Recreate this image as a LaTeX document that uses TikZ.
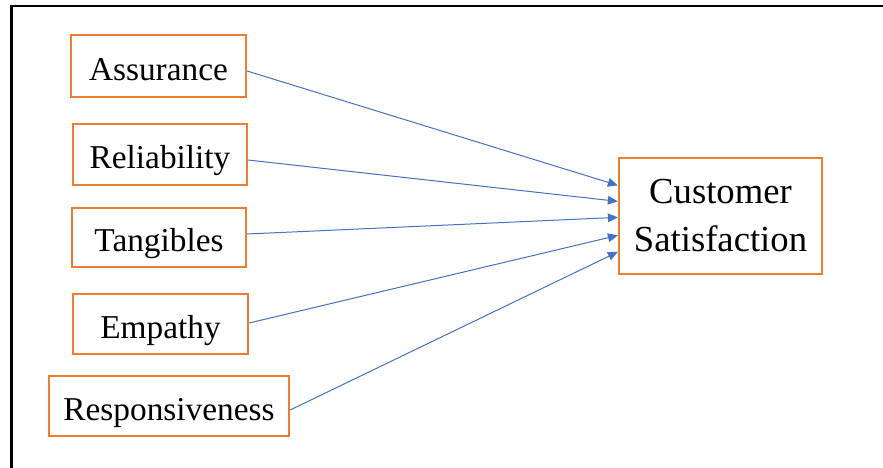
\documentclass[tikz,border=0pt]{standalone}
\usepackage{fontspec}
\IfFontExistsTF{LiberationSerif-Regular.ttf}
  {\setmainfont{LiberationSerif}[Extension=.ttf,UprightFont=*-Regular]}
  {\setmainfont{Liberation Serif}}
\usetikzlibrary{arrows.meta,calc}
\definecolor{boxorange}{RGB}{237,125,49}
\definecolor{linkblue}{RGB}{68,114,196}
\begin{document}
\begin{tikzpicture}[x=0.75pt,y=-0.75pt,
  factor/.style={draw=boxorange,line width=1.4pt,inner sep=0pt,
    font=\fontsize{25}{30}\selectfont,text height=21pt,text depth=0pt},
  outcome/.style={draw=boxorange,line width=1.4pt,inner sep=0pt,align=center,
    font=\fontsize{27.5}{36}\selectfont},
  link/.style={draw=linkblue,line width=0.75pt,-{Triangle[length=7.5pt,width=6.5pt]}}
]
\useasboundingbox (0,0) rectangle (883,468);
% frame along the top and left edges
\draw[line width=1.9pt] (11.3,468) -- (11.3,6) -- (883,6);

% service quality dimensions
\node[factor,minimum width=131.5pt,minimum height=46.8pt] (a) at (158.5,66) {Assurance};
\node[factor,minimum width=130.8pt,minimum height=46pt] (r) at (160,154.5) {Reliability};
\node[factor,minimum width=130.8pt,minimum height=44.5pt] (t) at (159,237.5) {Tangibles};
\node[factor,minimum width=131.5pt,minimum height=45.3pt] (e) at (160.5,324) {Empathy};
\node[factor,minimum width=180.3pt,minimum height=45.3pt] (s) at (169,406) {Responsiveness};

% outcome
\node[outcome,minimum width=152.5pt,minimum height=87.3pt] (cs) at (720.5,216) {Customer\\Satisfaction};

% entry points on the outcome box
\coordinate (in1) at ($(cs.north west)+(0,28.5)$);
\coordinate (in2) at ($(cs.north west)+(0,44.5)$);
\coordinate (in3) at ($(cs.north west)+(0,60.5)$);
\coordinate (in4) at ($(cs.north west)+(0,78.5)$);
\coordinate (in5) at ($(cs.north west)+(0,95)$);

\draw[link] ($(a.east)+(0,5)$) -- (in1);
\draw[link] ($(r.east)+(0,5.5)$) -- (in2);
\draw[link] ($(t.east)+(0,-3.5)$) -- (in3);
\draw[link] ($(e.east)+(0,-1)$) -- (in4);
\draw[link] ($(s.east)+(0,4)$) -- (in5);
\end{tikzpicture}
\end{document}
